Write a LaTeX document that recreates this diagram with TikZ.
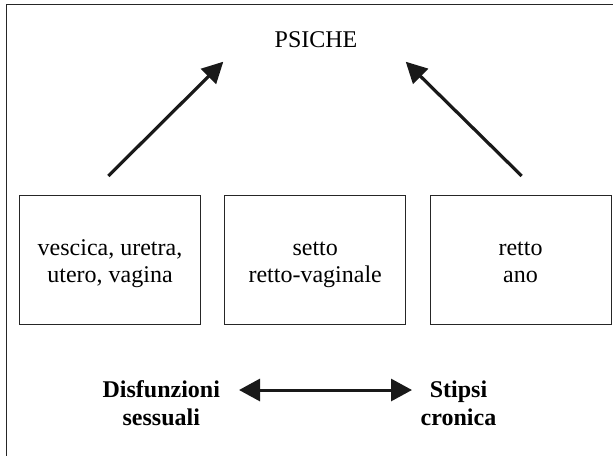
\documentclass[tikz,border=0pt]{standalone}
\usepackage{fontspec}
\setmainfont{Liberation Serif}
\usetikzlibrary{arrows.meta}
\newcommand{\toprl}[1]{\rule{0pt}{#1}}
\newcommand{\botrl}[1]{\rule[-#1]{0pt}{#1}}
\tikzset{
  frameline/.style={line width=0.5pt, draw=black!85},
  box/.style={draw=black!85, line width=0.5pt, minimum width=90.5pt, minimum height=64.5pt, inner sep=0pt, align=center, font=\fontsize{12}{13.5}\selectfont},
  lbl/.style={inner sep=0pt, align=center, font=\fontsize{12}{13.6}\selectfont},
  blbl/.style={inner sep=0pt, align=center, font=\fontsize{12}{13.85}\selectfont\bfseries},
  uparrow/.style={line width=1.6pt, draw=black!90, -{Triangle[length=10.5pt,width=10.5pt]}},
  dblarrow/.style={line width=1.5pt, draw=black!90, {Triangle[length=10.5pt,width=11pt]}-{Triangle[length=10.5pt,width=11pt]}}
}
\begin{document}
\begin{tikzpicture}[x=0.5pt,y=-0.5pt]
\useasboundingbox (0,0) rectangle (613,455);
% outer frame (only left and top edges visible)
\coordinate (ftl) at (6.5,4);
\coordinate (fbl) at (6.5,460);
\coordinate (ftr) at (620,4);
\draw[frameline] (fbl) -- (ftl) -- (ftr);
% title
\node[lbl, anchor=base] (psiche) at (316,47.3) {PSICHE};
% boxes
\node[box] (b1) at (110,259.5) {\toprl{12.7pt}vescica, uretra,\\utero, vagina\botrl{3pt}};
\node[box] (b2) at (315.2,259.5) {\toprl{12.7pt}setto\\retto-vaginale\botrl{3pt}};
\node[box] (b3) at (520.5,259.5) {\toprl{12.7pt}retto\\ano\botrl{3pt}};
% upward arrows
\coordinate (a1s) at (108.3,176);
\coordinate (a1e) at (223.3,61.7);
\coordinate (a2s) at (521.7,176);
\coordinate (a2e) at (405.7,61.7);
\draw[uparrow] (a1s) -- (a1e);
\draw[uparrow] (a2s) -- (a2e);
% bottom labels
\node[blbl] (dis) at (161.3,411.3) {\toprl{9.15pt}Disfunzioni\\sessuali\botrl{9pt}};
\node[blbl] (sti) at (458.5,411.3) {\toprl{9.15pt}Stipsi\\cronica\botrl{9pt}};
\coordinate (hl) at (239,390);
\coordinate (hr) at (412,390);
\draw[dblarrow] (hl) -- (hr);
\end{tikzpicture}
\end{document}
